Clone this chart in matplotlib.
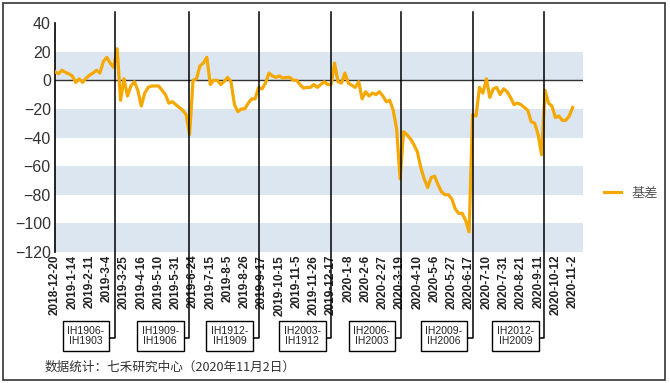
import numpy as np
import matplotlib
matplotlib.use("Agg")
import matplotlib.pyplot as plt
from matplotlib.patches import Rectangle
from matplotlib.lines import Line2D

plt.rcParams['font.family'] = ['Liberation Sans', 'Noto Sans CJK SC', 'DejaVu Sans']

# basis (IH spread), one reading every 3 trading days from 2018-12-20
basis = [6, 4.5, 7, 5.5, 4.5, 3, -1.5, 1, -1.5, 1.5,
         3.5, 5, 7, 5, 13, 16, 12, 9, 22, -14,
         1, -11, -4, -1, -7, -18, -9, -5, -4, -4,
         -4, -7, -10, -16, -15, -17, -19, -21, -24, -38,
         0, 1, 10, 12, 16, -3, 0, 0, -3, -1,
         2, -1, -17, -22, -20, -20, -16, -13, -13, -5,
         -6, -2, 5, 3, 2, 3, 1.5, 2, 2, 0,
         0, -3, -5.5, -5, -5, -3, -5, -3, -1, -3,
         -3, 12, -1, -2, 5, -2, -3.5, -5, -1, -13,
         -8, -11, -9, -10, -8, -11, -15, -14, -21, -34,
         -69, -36, -38, -41, -45, -50, -61, -69, -75, -68,
         -67, -73, -78, -80, -80, -83, -90, -93, -93, -98,
         -106, -24, -25, -5, -9, 1, -12, -6, -5, -10,
         -6, -8, -12, -17, -16, -17, -19, -21, -29, -30,
         -38, -52, -7, -16, -18, -26, -25, -28, -28, -25,
         -19]
step = 3

tick_labels = ['2018-12-20', '2019-1-14', '2019-2-11', '2019-3-4', '2019-3-25',
               '2019-4-16', '2019-5-10', '2019-5-31', '2019-6-24', '2019-7-15',
               '2019-8-5', '2019-8-26', '2019-9-17', '2019-10-15', '2019-11-5',
               '2019-11-26', '2019-12-17', '2020-1-8', '2020-2-6', '2020-2-27',
               '2020-3-19', '2020-4-10', '2020-5-6', '2020-5-27', '2020-6-17',
               '2020-7-10', '2020-7-31', '2020-8-21', '2020-9-11', '2020-10-12',
               '2020-11-2']
tick_every = 15

# contract roll days (trading-day index) and their labels
roll_idx = [52, 116.5, 177, 240, 300.5, 363, 425.5]
roll_labels = ['IH1906-\nIH1903', 'IH1909-\nIH1906', 'IH1912-\nIH1909', 'IH2003-\nIH1912',
               'IH2006-\nIH2003', 'IH2009-\nIH2006', 'IH2012-\nIH2009']

W, H = 670, 383
fig = plt.figure(figsize=(W / 100, H / 100), dpi=100)
fig.patch.set_facecolor('white')
ax = fig.add_axes([55 / W, 1 - 252 / H, (583 - 55) / W, (252 - 23) / H])

x = np.arange(len(basis)) * step

# banded background
for lo in range(-120, 40, 40):
    ax.axhspan(lo, lo + 20, color='#dce6f1', lw=0, zorder=0)
ax.axhline(0, color='#333333', lw=1.0, zorder=1)

ax.plot(x, basis, color='#f5a800', lw=2.3, zorder=3, label='基差')

ax.set_xlim(0, 459)
ax.set_ylim(-120, 40)
ax.set_yticks(range(-120, 41, 20))
ax.tick_params(axis='y', length=0, pad=3, labelsize=11.5, labelcolor='#333333')
ax.set_xticks(np.arange(len(tick_labels)) * tick_every)
ax.set_xticklabels(tick_labels, rotation=90, fontsize=8.5, fontweight='bold', color='#222222')
ax.tick_params(axis='x', length=0, pad=2)

for s in ['top', 'right', 'bottom']:
    ax.spines[s].set_visible(False)
ax.spines['left'].set_color('black')
ax.spines['left'].set_linewidth(1.2)

# roll markers: line through the chart, hooked to a label box below
tr = ax.get_xaxis_transform()
ax_h = 252 - 23
y_top = (252 - 12) / ax_h
y_hook = (252 - 338) / ax_h
y_box = (252 - 336) / ax_h
for xi, lab in zip(roll_idx, roll_labels):
    ax.add_line(Line2D([xi, xi, xi - 20], [y_top, y_hook, y_hook], transform=tr,
                       color='black', lw=1.1, clip_on=False, zorder=4))
    ax.text(xi - 25, y_box, lab, transform=tr, ha='center', va='center',
            fontsize=7.5, color='#222222', linespacing=1.1,
            bbox=dict(boxstyle='square,pad=0.45', fc='white', ec='black', lw=1.0),
            zorder=5)

fig.legend(loc='center left', bbox_to_anchor=(604 / W, 1 - 193 / H), frameon=False,
           handlelength=1.3, handletextpad=0.8, borderpad=0, borderaxespad=0,
           prop={'family': 'Noto Sans CJK SC', 'size': 9.5}, labelcolor='#555555')

fig.text(45 / W, 1 - 367 / H, '数据统计：七禾研究中心（2020年11月2日）',
         family=['Noto Sans CJK SC', 'DejaVu Sans'], fontsize=9.1, color='#333333',
         ha='left', va='center')

fig.patches.append(Rectangle((3 / W, 3 / H), 662 / W, 377 / H, transform=fig.transFigure,
                             fill=False, ec='#333333', lw=1.2))

fig.savefig('out.png', dpi=100)
